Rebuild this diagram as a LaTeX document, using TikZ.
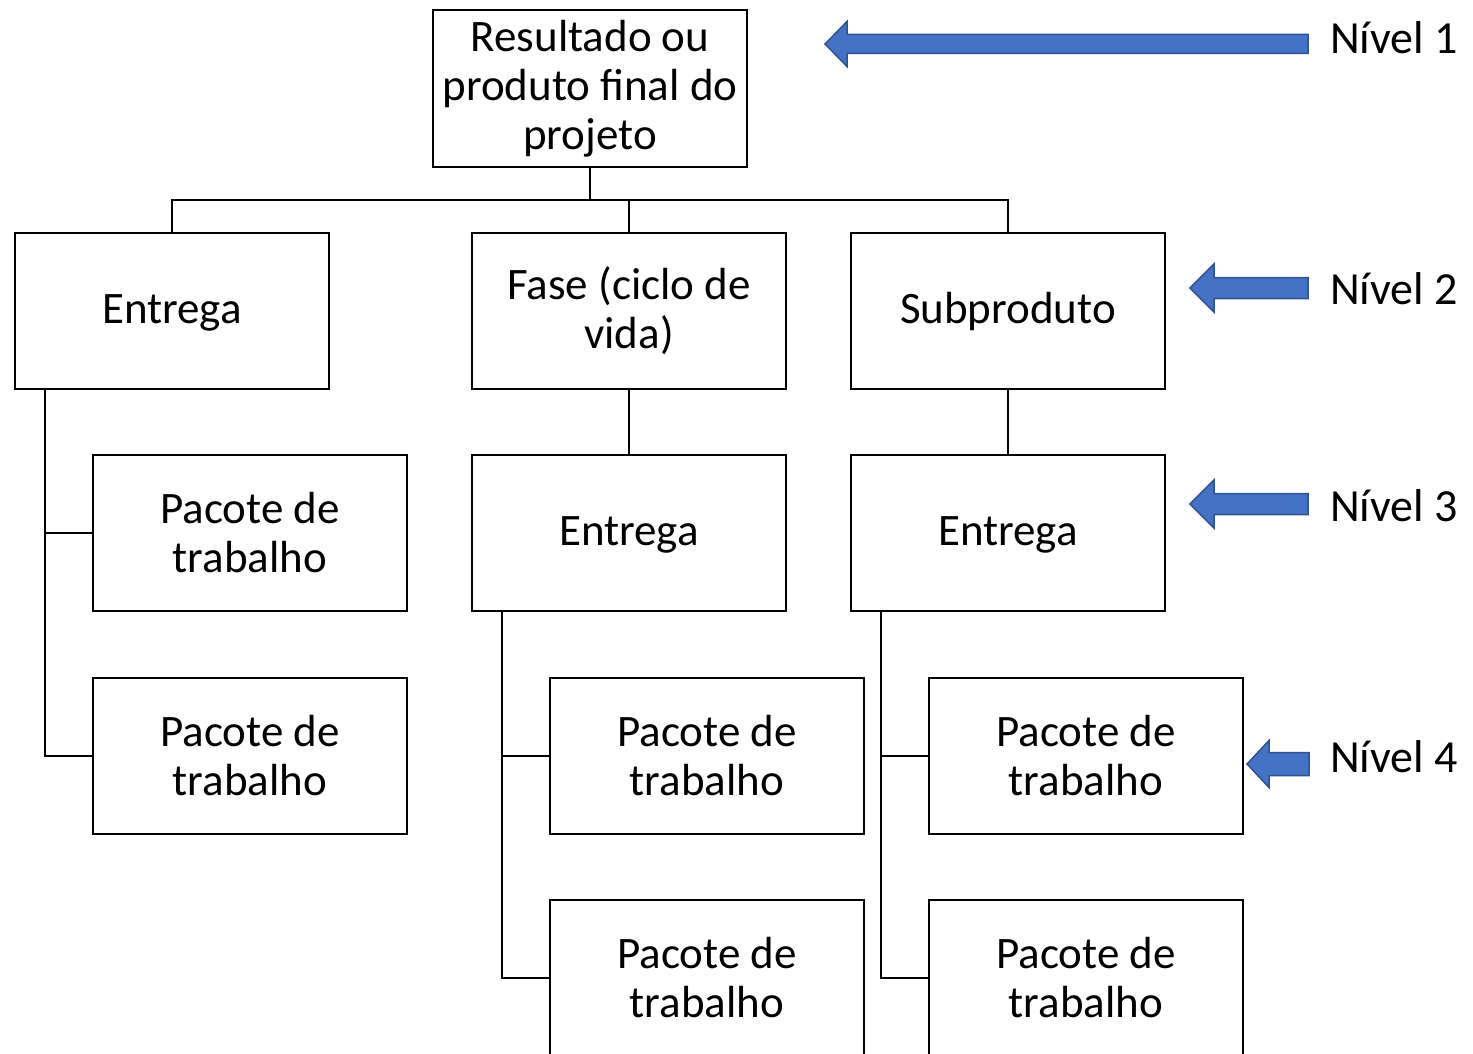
\documentclass[tikz,border=0pt]{standalone}
\usepackage{fontspec}
\setmainfont{Carlito}
\definecolor{arrfill}{HTML}{4472C4}
\definecolor{arrdraw}{HTML}{2F528F}
\begin{document}
\begin{tikzpicture}[x=1pt,y=-1pt,
  box/.style={draw=black,line width=2pt,minimum width=314pt,minimum height=156pt,
    align=center,inner sep=0pt,font=\fontsize{45}{49}\selectfont},
  oneline/.style={text height=34pt,text depth=10pt},
  conn/.style={draw=black,line width=2pt},
  levelarrow/.style={fill=arrfill,draw=arrdraw,line width=1.5pt,line join=miter},
  lvl/.style={anchor=base west,inner sep=0pt,font=\fontsize{46}{50}\selectfont}]
\useasboundingbox (0,0) rectangle (1473,1054);
\clip (0,0) rectangle (1473,1054);
% boxes
\node[box,minimum height=157pt] (top) at (590,88.5) {Resultado ou\\produto final do\\projeto};
\node[box,oneline] (e2) at (172,311) {Entrega};
\node[box] (f2) at (629,311) {Fase (ciclo de\\vida)};
\node[box,oneline] (s2) at (1008,311) {Subproduto};
\node[box] (p3l) at (250,533) {Pacote de\\trabalho};
\node[box,oneline] (e3m) at (629,533) {Entrega};
\node[box,oneline] (e3r) at (1008,533) {Entrega};
\node[box] (p4l) at (250,756) {Pacote de\\trabalho};
\node[box] (p4m) at (707,756) {Pacote de\\trabalho};
\node[box] (p4r) at (1086,756) {Pacote de\\trabalho};
\node[box] (p5m) at (707,978) {Pacote de\\trabalho};
\node[box] (p5r) at (1086,978) {Pacote de\\trabalho};
% connectors
\coordinate (bus) at (590,200);
\draw[conn] (top.south) -- (bus);
\draw[conn] (bus) -| (e2.north);
\draw[conn] (bus) -| (s2.north);
\draw[conn] (bus) -| (f2.north);
\draw[conn] (f2.south) -- (e3m.north);
\draw[conn] (s2.south) -- (e3r.north);
\draw[conn] ([xshift=31pt]e2.south west) |- (p3l.west);
\draw[conn] ([xshift=31pt]e2.south west) |- (p4l.west);
\draw[conn] ([xshift=31pt]e3m.south west) |- (p4m.west);
\draw[conn] ([xshift=31pt]e3m.south west) |- (p5m.west);
\draw[conn] ([xshift=31pt]e3r.south west) |- (p4r.west);
\draw[conn] ([xshift=31pt]e3r.south west) |- (p5r.west);
% level arrows
\draw[levelarrow] (825,44) -- (847,21.5) -- (847,34.5) -- (1308,34.5) -- (1308,53.5) -- (847,53.5) -- (847,66.5) -- cycle;
\draw[levelarrow] (1190,288) -- (1214,264) -- (1214,277.5) -- (1308,277.5) -- (1308,298.5) -- (1214,298.5) -- (1214,312) -- cycle;
\draw[levelarrow] (1190,504) -- (1214,480) -- (1214,493.5) -- (1308,493.5) -- (1308,514.5) -- (1214,514.5) -- (1214,528) -- cycle;
\draw[levelarrow] (1247,764) -- (1269,740.5) -- (1269,752.5) -- (1309,752.5) -- (1309,775.5) -- (1269,775.5) -- (1269,787.5) -- cycle;
% level labels
\node[lvl] (n1) at (1330,54) {Nível 1};
\node[lvl] (n2) at (1330,304) {Nível 2};
\node[lvl] (n3) at (1330,521) {Nível 3};
\node[lvl] (n4) at (1330,772) {Nível 4};
\end{tikzpicture}
\end{document}
